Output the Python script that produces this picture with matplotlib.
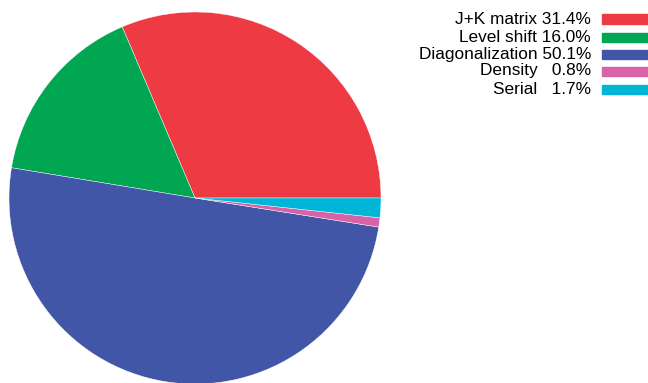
import matplotlib.pyplot as plt
from matplotlib.patches import Rectangle

plt.rcParams['font.family'] = ['Liberation Sans', 'DejaVu Sans']

labels = ['J+K matrix', 'Level shift', 'Diagonalization', 'Density', 'Serial']
pct_text = ['31.4%', '16.0%', '50.1%', '0.8%', '1.7%']
values = [31.4, 16.0, 50.1, 0.8, 1.7]
colors = ['#EE3A43', '#00A651', '#4156A6', '#D862A8', '#00B5D5']

W, H = 648, 383
fig = plt.figure(figsize=(W / 100, H / 100), dpi=100)

# pie: center (195,198) px, radius 186 px
cx, cy, r = 195, 198, 186
ax = fig.add_axes([(cx - r) / W, (H - cy - r) / H, 2 * r / W, 2 * r / H])
ax.pie(values, colors=colors, startangle=0, counterclock=True, radius=1,
       wedgeprops=dict(linewidth=0.3, edgecolor='white'))
ax.set_xlim(-1, 1)
ax.set_ylim(-1, 1)
ax.set_aspect('equal')
ax.axis('off')

# legend drawn by hand, text right-aligned with color bars after it
row_y = [19, 37, 54, 71, 89]
for lab, p, c, y in zip(labels, pct_text, colors, row_y):
    sep = '   ' if len(p) < 5 else ' '
    fig.text(591 / W, 1 - y / H, lab + sep + p, ha='right', va='center',
             fontsize=12.4)
    fig.patches.append(Rectangle((602 / W, 1 - (y + 4.5) / H), 50 / W, 9 / H,
                                 transform=fig.transFigure, color=c, clip_on=False))

fig.savefig('out.png', dpi=100)
